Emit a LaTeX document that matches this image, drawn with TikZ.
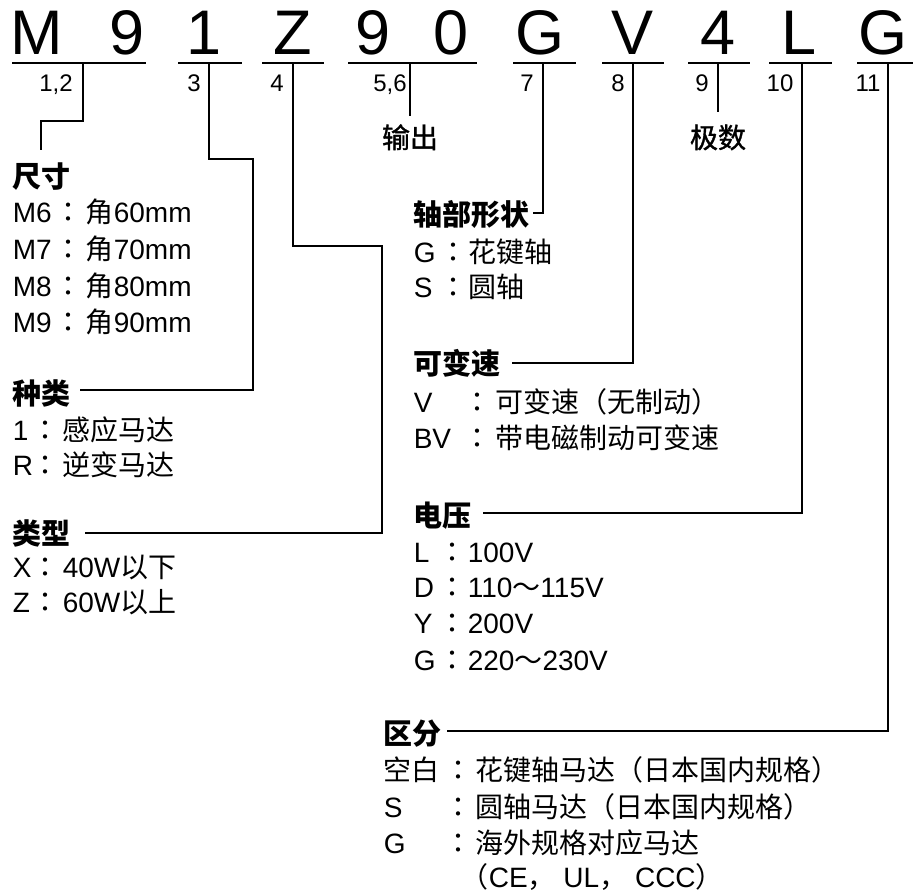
\documentclass[tikz,border=0pt]{standalone}
\usepackage{fontspec}
\setmainfont{Liberation Sans}
\newfontfamily\cjk{Noto Sans CJK SC}
\newfontfamily\cjkmid[FakeBold=1.2]{Noto Sans CJK SC}
\newfontfamily\cjkjp{Noto Sans CJK JP}
\newcommand\C[1]{{\cjk #1}}
\newcommand\itemline[7]{%
  \node[keyt] (#1k) at (#3,#2) {#4};
  \node[colont] (#1c) at (#5,#2) {：};
  \node[valt] (#1v) at (#6,#2) {#7};}
\begin{document}
\begin{tikzpicture}[x=1pt,y=-1pt,line width=1.6pt,
  big/.style={anchor=base,inner sep=0,font=\fontsize{63}{63}\selectfont},
  num/.style={anchor=base,inner sep=0,font=\fontsize{24}{24}\selectfont},
  head/.style={anchor=base west,inner sep=0,font=\cjk\bfseries\fontsize{29}{29}\selectfont},
  sub/.style={anchor=base,inner sep=0,font=\cjkmid\fontsize{28}{28}\selectfont},
  keyt/.style={anchor=base west,inner sep=0,font=\fontsize{28}{28}\selectfont},
  colont/.style={anchor=base,inner sep=0,font=\cjkjp\fontsize{28}{28}\selectfont},
  valt/.style={anchor=base west,inner sep=0,font=\fontsize{28}{28}\selectfont},
  uline/.style={line width=1.6pt}]
\useasboundingbox (0,0) rectangle (913,893);
% big code letters
\node[big] (cM) at (37,55) {M};
\node[big] (c9a) at (127,55) {9};
\node[big] (c1) at (204,55) {1};
\node[big] (cZ) at (293,55) {Z};
\node[big] (c9b) at (373,55) {9};
\node[big] (c0) at (451,55) {0};
\node[big] (cG) at (540,55) {G};
\node[big] (cV) at (633,55) {V};
\node[big] (c4) at (718,55) {4};
\node[big] (cL) at (799,55) {L};
\node[big] (cG2) at (883,55) {G};
% underlines
\draw[uline] (12,63) -- (146,63);
\draw[uline] (178,63) -- (242,63);
\draw[uline] (262,63) -- (324,63);
\draw[uline] (348,63) -- (477,63);
\draw[uline] (513,63) -- (576,63);
\draw[uline] (602,63) -- (664,63);
\draw[uline] (688,63) -- (750,63);
\draw[uline] (769,63) -- (832,63);
\draw[uline] (857,63) -- (913,63);
% position numbers
\node[num] (n12) at (56,92) {1,2};
\node[num] (n3) at (194,92) {3};
\node[num] (n4) at (277,92) {4};
\node[num] (n56) at (390,92) {5,6};
\node[num] (n7) at (527,92) {7};
\node[num] (n8) at (618,92) {8};
\node[num] (n9) at (702,92) {9};
\node[num] (n10) at (780,92) {10};
\node[num] (n11) at (868,92) {11};
% sub labels
\node[sub] (out) at (410,148) {输出};
\node[sub] (pole) at (718,148) {极数};
% left column
\node[head] (hsize) at (12,188) {尺寸};
\itemline{m6}{223}{12}{M6}{68}{85}{\C{角}60mm}
\itemline{m7}{260}{12}{M7}{68}{85}{\C{角}70mm}
\itemline{m8}{297}{12}{M8}{68}{85}{\C{角}80mm}
\itemline{m9}{333}{12}{M9}{68}{85}{\C{角}90mm}
\node[head] (hkind) at (12,404) {种类};
\itemline{k1}{440}{12}{1}{45}{62}{\C{感应马达}}
\itemline{kR}{475}{12}{R}{45}{62}{\C{逆变马达}}
\node[head] (htype) at (12,544) {类型};
\itemline{tX}{577}{12}{X}{45}{62}{40W\C{以下}}
\itemline{tZ}{612}{12}{Z}{45}{62}{60W\C{以上}}
% right column
\node[head] (hshaft) at (413,226) {轴部形状};
\itemline{sG}{263}{413}{G}{453}{468}{\C{花键轴}}
\itemline{sS}{298}{413}{S}{453}{468}{\C{圆轴}}
\node[head] (hvar) at (413,374) {可变速};
\itemline{vV}{412}{413}{V}{477}{495}{\C{可变速（无制动）}}
\itemline{vB}{448}{413}{BV}{477}{495}{\C{带电磁制动可变速}}
\node[head] (hvolt) at (413,526) {电压};
\itemline{eL}{562}{413}{L}{452}{467}{100V}
\itemline{eD}{597}{413}{D}{452}{467}{110\C{～}115V}
\itemline{eY}{633}{413}{Y}{452}{467}{200V}
\itemline{eG}{670}{413}{G}{452}{467}{220\C{～}230V}
\node[head] (hdiv) at (383,744) {区分};
\itemline{dB}{780}{383}{\C{空白}}{458}{475}{\C{花键轴马达（日本国内规格）}}
\itemline{dS}{817}{383}{S}{458}{475}{\C{圆轴马达（日本国内规格）}}
\itemline{dG}{853}{383}{G}{458}{475}{\C{海外规格对应马达}}
\node[valt] (dG2) at (460,887) {\C{（}CE\C{，} UL\C{，} CCC\C{）}};
% connectors
\draw (83,63) -- (83,121) -- (41,121) -- (41,150);
\draw (209,63) -- (209,159) -- (253,159) -- (253,390) -- (80,390);
\draw (293,63) -- (293,246) -- (382,246) -- (382,533) -- (85,533);
\draw (410,63) -- (410,116);
\draw (543,63) -- (543,213) -- (533,213);
\draw (633,63) -- (633,363) -- (512,363);
\draw (718,63) -- (718,112);
\draw (802,63) -- (802,513) -- (483,513);
\draw (888,63) -- (888,731) -- (447,731);
\end{tikzpicture}
\end{document}
